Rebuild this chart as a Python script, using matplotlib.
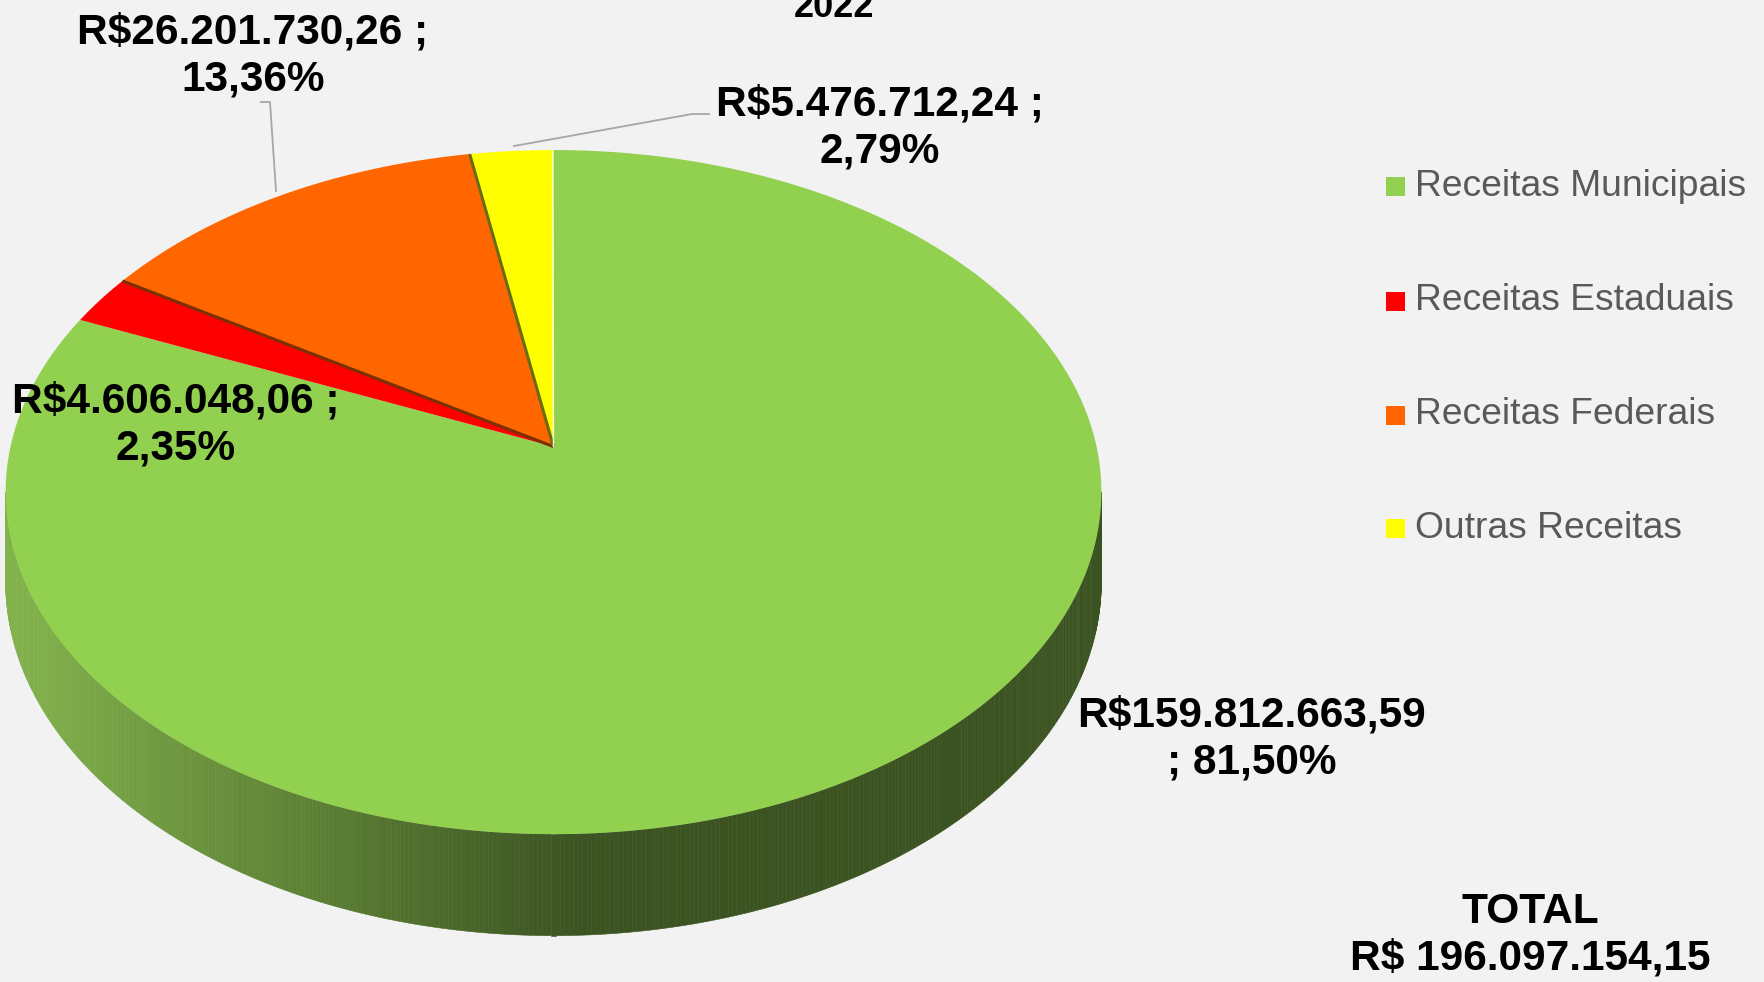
import numpy as np
import matplotlib
matplotlib.use('Agg')
import matplotlib.pyplot as plt
from matplotlib.collections import PolyCollection
from matplotlib.colors import to_rgb

# data
categories = ["Receitas Municipais", "Receitas Estaduais", "Receitas Federais", "Outras Receitas"]
values = [159812663.59, 4606048.06, 26201730.26, 5476712.24]
colors = ["#92d050", "#ff0000", "#ff6600", "#ffff00"]
labels = ["R$159.812.663,59\n; 81,50%",
          "R$4.606.048,06 ;\n2,35%",
          "R$26.201.730,26 ;\n13,36%",
          "R$5.476.712,24 ;\n2,79%"]
label_pos = [(1252, 739), (176, 425), (253, 56), (880, 128)]
total_text = "TOTAL\nR$ 196.097.154,15"
title = "2022"

plt.rcParams['font.family'] = ['Liberation Sans', 'DejaVu Sans']
BG = "#f2f2f2"

# pie geometry in pixel-like data coords (perspective tilted disk)
X0, Y0 = 553.5, 446.6
A, B, K, D = 336.0, 543.0, 0.133, 88.0


def proj(t, h=0.0):
    u, v = np.cos(t), np.sin(t)
    den = 1 + K * v
    return X0 + B * u / den, Y0 - A * v / den + D * h / den


fig = plt.figure(figsize=(17.64, 9.82), dpi=100, facecolor=BG)
ax = fig.add_axes([0, 0, 1, 1])
ax.set_facecolor(BG)
ax.set_xlim(0, 1764)
ax.set_ylim(982, 0)
ax.axis('off')

# side wall (front), gradient from light to dark green
tl = np.pi + np.arcsin(K)
tr = 2 * np.pi - np.arcsin(K)
ts = np.linspace(tl, tr, 400)
c_light = np.array(to_rgb("#82b24b"))
c_dark = np.array(to_rgb("#3b5321"))
polys, fcs = [], []
for a0, a1 in zip(ts[:-1], ts[1:]):
    xa, ya = proj(a0)
    xb, yb = proj(a1)
    xa2, ya2 = proj(a0, 1)
    xb2, yb2 = proj(a1, 1)
    polys.append([(xa, ya), (xb, yb), (xb2, yb2), (xa2, ya2)])
    f = np.clip(((xa + xb) / 2 - 15) / (580 - 15), 0, 1)
    fcs.append(c_light * (1 - f) + c_dark * f)
ax.add_collection(PolyCollection(polys, facecolors=fcs, edgecolors=fcs, linewidths=0.4))

# top face wedges: start at 12 o'clock, clockwise
fracs = np.array(values) / sum(values)
start = np.pi / 2
bounds = []
for frac, col in zip(fracs, colors):
    end = start - frac * 2 * np.pi
    t = np.linspace(start, end, max(int(frac * 720), 8))
    xs, ys = proj(t)
    ax.fill(np.r_[X0, xs], np.r_[Y0, ys], color=col, lw=0)
    bounds.append(start)
    start = end

# darker wall lines on some slice boundaries
for b, col in [(bounds[2], "#7a3000"), (bounds[3], "#6b6b10")]:
    xe, ye = proj(b)
    ax.plot([X0, xe], [Y0, ye], color=col, lw=2.2, solid_capstyle='butt')
xe, ye = proj(bounds[0] + 0.002)
ax.plot([X0, xe], [Y0, ye], color="#f8f8e0", lw=1.0)

# leader lines
ax.plot([261, 270, 276], [102, 102, 191], color="#a6a6a6", lw=1.3)
ax.plot([709, 692, 514], [114, 114, 146], color="#a6a6a6", lw=1.3)

# data labels
for lab, (lx, ly) in zip(labels, label_pos):
    ax.text(lx, ly, lab, ha='center', va='center', fontsize=30.5, fontweight='bold',
            color='black', linespacing=1.2)

ax.text(1530, 935, total_text, ha='center', va='center', fontsize=30.5,
        fontweight='bold', color='black', linespacing=1.2)
ax.text(834, 17, title, ha='center', va='baseline', fontsize=26,
        fontweight='bold', color='black')

# legend
leg_y = [186, 301, 415, 528]
for cat, col, y in zip(categories, colors, leg_y):
    ax.add_patch(plt.Rectangle((1386, y - 9.5), 19, 19, facecolor=col, edgecolor='none'))
    ax.text(1415, y, cat, ha='left', va='center', fontsize=26.8, color="#595959")

fig.savefig("out.png", dpi=100, facecolor=BG)
